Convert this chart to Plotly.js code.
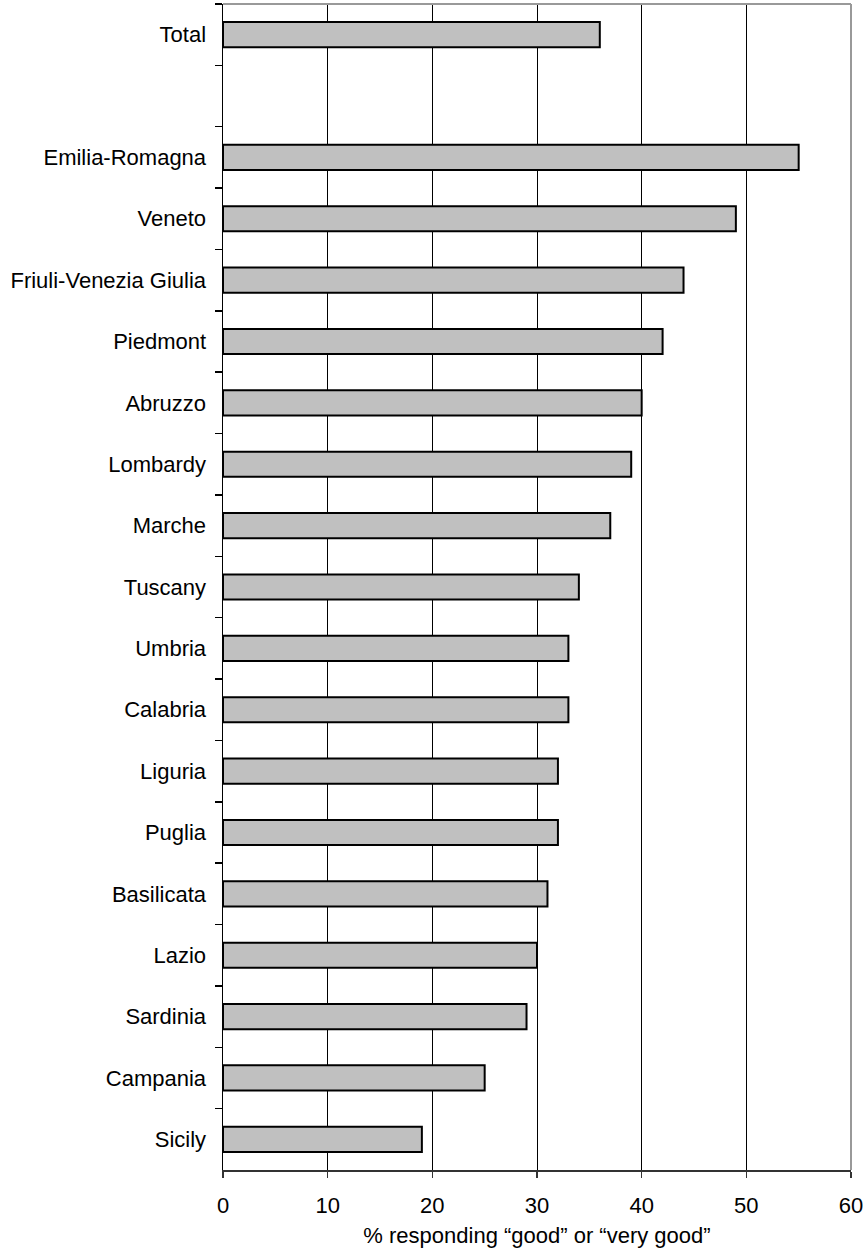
<!DOCTYPE html>
<html>
<head>
<meta charset="utf-8">
<script src="https://cdn.plot.ly/plotly-3.0.1.min.js"></script>
<style>html,body{margin:0;padding:0;background:#fff;}#chart{width:868px;height:1251px;}</style>
</head>
<body>
<div id="chart"></div>
<script>
const totalLabel = "Total";
const totalValue = 36;
const regions = ["Emilia-Romagna","Veneto","Friuli-Venezia Giulia","Piedmont","Abruzzo","Lombardy","Marche","Tuscany","Umbria","Calabria","Liguria","Puglia","Basilicata","Lazio","Sardinia","Campania","Sicily"];
const regionValues = [55,49,44,42,40,39,37,34,33,33,32,32,31,30,29,25,19];
const spacer = " ";
const xTicks = [0,10,20,30,40,50,60];
const xTitle = "% responding \u201cgood\u201d or \u201cvery good\u201d";

const cats = [totalLabel, spacer].concat(regions);
const vals = [totalValue, null].concat(regionValues);

const font = {family: "Liberation Sans, Arial, sans-serif", size: 22, color: "#000"};

Plotly.newPlot("chart", [{
  type: "bar",
  orientation: "h",
  y: cats,
  x: vals,
  marker: {color: "#c0c0c0", line: {color: "#000", width: 2}},
  hoverinfo: "skip"
}], {
  width: 868, height: 1251,
  margin: {l: 223, r: 17, t: 4, b: 81},
  paper_bgcolor: "#fff", plot_bgcolor: "#fff",
  font: font,
  showlegend: false,
  bargap: 0.59,
  xaxis: {
    range: [0, 60], tickvals: xTicks, ticktext: xTicks.map(String),
    showgrid: true, gridcolor: "#000", gridwidth: 1,
    zeroline: false,
    showline: true, linecolor: "#333", linewidth: 2,
    ticks: "outside", ticklen: 6, tickcolor: "#333", tickwidth: 1.5,
    tickfont: font,
    ticklabelstandoff: 9,
    title: {text: xTitle, font: font, standoff: 10}
  },
  yaxis: {
    type: "category", categoryorder: "array", categoryarray: cats,
    autorange: "reversed",
    tickson: "boundaries",
    showgrid: false, zeroline: false,
    showline: true, linecolor: "#000", linewidth: 1.5,
    ticks: "outside", ticklen: 7, tickcolor: "#000", tickwidth: 1.5,
    tickfont: font,
    ticklabelstandoff: 11
  },
  shapes: [
    {type: "line", xref: "paper", yref: "paper", x0: 0, x1: 1, y0: 1, y1: 1, line: {color: "#999", width: 2}},
    {type: "line", xref: "paper", yref: "paper", x0: 1, x1: 1, y0: 0, y1: 1, line: {color: "#999", width: 2}}
  ]
}, {displayModeBar: false, staticPlot: true});
</script>
</body>
</html>
